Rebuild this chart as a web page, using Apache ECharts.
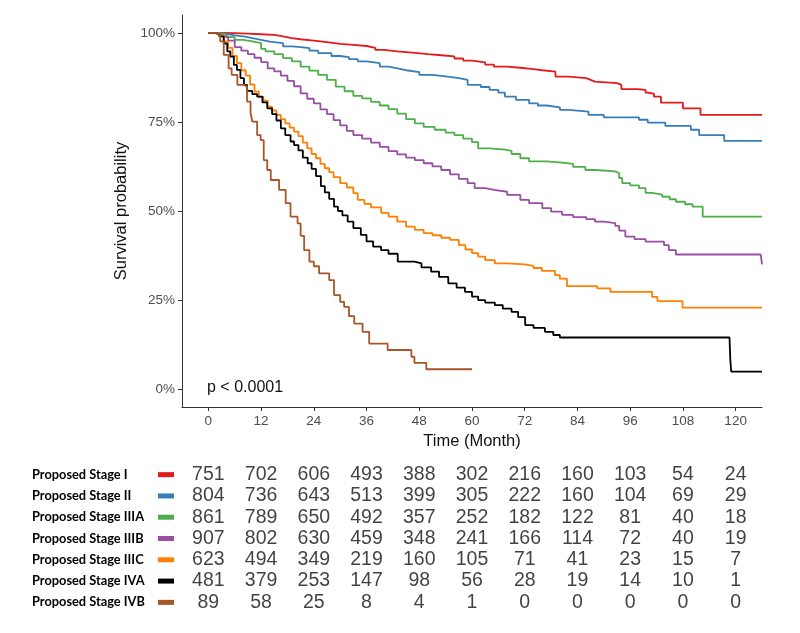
<!DOCTYPE html>
<html>
<head>
<meta charset="utf-8">
<script src="https://cdn.jsdelivr.net/npm/echarts@6/dist/echarts.min.js"></script>
<style>
html,body{margin:0;padding:0;background:#fff;}
#c{width:800px;height:633px;}
</style>
</head>
<body>
<div id="c"></div>
<script>
// ---- data ----
var stageNames = ['Proposed Stage I','Proposed Stage II','Proposed Stage IIIA','Proposed Stage IIIB','Proposed Stage IIIC','Proposed Stage IVA','Proposed Stage IVB'];
var stageColors = ['#E41A1C','#377EB8','#4DAF4A','#984EA3','#FF7F00','#000000','#A65628'];
var xTicks = [0,12,24,36,48,60,72,84,96,108,120];
var yTicks = [0,25,50,75,100];
var pText = 'p < 0.0001';

var survI = [[0,100],[3,99.9],[6,99.8],[9,99.6],[12,99.4],[15,99],[17,98.5],[19,98.2],[21,97.8],[24,97.4],[27,96.9],[30,96.6],[33,96.3],[36,95.8],[38,95.2],[40,94.8],[43,94.4],[47,94],[50,93.7],[53,93.4],[56,92.8],[58,92.2],[60,91.7],[63,91.1],[65,90.5],[68,90.2],[71,89.8],[74,89.5],[76,89.1],[79,87.7],[82,87.3],[86,86.8],[87,86.3],[88,85.9],[93,85.4],[94,84.2],[97.6,84],[99.5,83.2],[100,82.9],[101.4,82.1],[103,80.4],[108,78.8],[112,77],[126,77]];
var survII = [[0,100],[2,99.7],[4,99.3],[6,99],[8,98.5],[10,98],[12,97.5],[14,97.1],[17,96.2],[19,96],[21,95.7],[23,95],[25,94.3],[28,93.5],[30,93.2],[32,92.6],[34,92],[36,91.5],[39,90.5],[41,90],[43,89.5],[45,89],[48,88.2],[51,87.8],[54,87.3],[57,86.8],[59,85.4],[62,84.8],[64,84],[66,83.2],[67.5,82.1],[70,81.2],[73,80.2],[75,79.6],[77,79.1],[80,78.4],[82,77.9],[86.5,77],[90,76.3],[98,75.6],[100,74.8],[104,73.9],[109.8,72.8],[111.7,71.3],[117.4,69.7],[126,69.7]];
var survIIIA = [[0,100],[2,99.6],[4,98.8],[6,98],[8,97.6],[10,97.1],[12,95.5],[13,94.8],[15,94],[17,92.9],[19,92],[21,90.5],[23,89.4],[25,88.2],[27,86.8],[29,84.9],[31,83.6],[33,82.3],[35,81.6],[37,80.6],[39,79.6],[41,78.6],[43,77.3],[45,75.8],[47,74.6],[49,73.6],[51.5,72.8],[54,72],[56,71.3],[58,70.3],[60,69.3],[61.4,67.6],[64,67.2],[67.5,66.9],[69,66],[71,64.8],[73,63.9],[77,63.6],[80.5,63.2],[83,62.4],[85.8,61.5],[88,61.1],[92.6,60.6],[93.5,59.2],[94.2,57.8],[96,57.2],[98,56.4],[99.5,55.1],[101,54.6],[103.3,54],[105,53.3],[106.4,52.6],[108.5,51.9],[110.2,51.2],[112.5,48.4],[126,48.4]];
var survIIIB = [[0,100],[1.5,99.6],[3,99],[4.5,97.8],[6,96],[7.5,95],[9,94],[10.5,93],[12,91.8],[13.5,90],[15,89.2],[16.5,88],[18,86.5],[19.5,85],[21,83],[22.5,81.5],[24,80.2],[25.5,78.5],[27,77.2],[28.5,75.5],[30,74],[31.5,72.5],[33,71.3],[35,70.3],[37,69.2],[39,68],[41,66.8],[43,65.9],[45,65],[47,64.3],[49,63.4],[51,62.5],[53,61.5],[55,60.3],[57,59],[59,57.8],[60.6,56.4],[63,55.9],[65,55.4],[68,54.5],[71,53.1],[73,52.2],[76,50.8],[78,49.8],[80.5,48.9],[83,48.3],[86,47.7],[88,47],[90,46.6],[92.6,45.8],[93.5,44.5],[94.9,42.8],[97,42.1],[99.5,41.4],[103.7,40.4],[104.8,39],[106.4,37.8],[125.7,37.8],[126,35]];
var survIIIC = [[0,100],[1.5,99.5],[2.5,99],[3.5,97.6],[4.5,95.8],[5.5,93.5],[6.5,91.5],[7.5,89.5],[8.5,88],[9.5,85.5],[10.5,83.5],[11.5,82],[12.5,81],[13.5,79.3],[14.5,78.2],[15.5,77],[16.5,75.8],[17.5,74.6],[18.5,73.4],[19.5,72.3],[20.5,71],[21.5,69.2],[22.5,67.6],[23.5,66],[24.5,64.8],[25.5,63.2],[26.5,62],[27.5,60.9],[28.5,59.5],[30,57.8],[31.5,56.6],[33,55],[34,53.1],[35.5,52],[37,51],[39.3,49.5],[41,48.4],[43,47],[45,45.6],[47,44.7],[49,43.8],[51,43.2],[53,42.5],[55,41.9],[57,40.4],[58.5,39.2],[60,38.2],[61.4,37.2],[63,36.2],[65.2,35.3],[68,35],[72,34.6],[74,34],[75.9,33.2],[78.9,32],[80,31],[81.6,28.9],[88.5,28.3],[91.5,27.3],[101,25.9],[102.2,24.7],[107.9,22.9],[126,22.9]];
var survIVA = [[0,100],[1.5,99.6],[2.5,99],[3.5,97],[4.3,94.8],[5,93.3],[5.8,91],[6.5,89.6],[7.3,87.3],[8.1,85.4],[8.8,83.7],[10,82.8],[11.1,82.1],[12.3,80.5],[13.4,78.8],[14.5,77.2],[15.5,75.4],[16.5,73.2],[17.5,71.3],[18.7,69.5],[19.5,68.5],[20.5,67],[21.5,65],[22.6,63.4],[23.5,61.8],[24.5,59.8],[25.6,57],[26.5,55.2],[27.5,53.4],[28.6,51.2],[29.5,50],[30.5,48.8],[31.7,47],[33,45.2],[34.7,43.3],[36,41.5],[37.5,40],[39.3,39],[41,38],[43.1,35.8],[46.9,35.3],[48.5,34.2],[50.7,33],[52.5,31.5],[54.6,29.7],[56.5,28.5],[58.4,27.3],[60,26],[61.4,25],[63,24.3],[65.2,23.6],[67,22.6],[69,21.7],[70.5,20.2],[72.1,18],[74,17.2],[76.6,16.1],[78.5,15.2],[80,14.5],[118.6,14.5],[118.8,8],[119,4.9],[126,4.9]];
var survIVB = [[0,100],[1.5,99.5],[2.7,97.6],[3.5,93.8],[4.6,90],[5.3,88.2],[6.6,85.4],[8.1,84.9],[8.8,80.7],[9.6,77.5],[10,75.1],[11.1,71.3],[11.9,69.9],[12.6,64.3],[13.4,61.5],[14.2,58.7],[16.1,55.9],[17.6,52.2],[18.7,48.4],[20.3,46.5],[21,43],[21.8,39],[23,35.8],[24,34.5],[25.2,32.5],[27.5,30.6],[28.6,26.4],[30,24.5],[30.9,23.1],[32,20.5],[33.2,18.4],[35.1,16.1],[36.6,12.8],[40.8,11],[46.2,9.1],[46.9,7.4],[49.6,5.6],[60,5.6]];

var riskI = [751,702,606,493,388,302,216,160,103,54,24];
var riskII = [804,736,643,513,399,305,222,160,104,69,29];
var riskIIIA = [861,789,650,492,357,252,182,122,81,40,18];
var riskIIIB = [907,802,630,459,348,241,166,114,72,40,19];
var riskIIIC = [623,494,349,219,160,105,71,41,23,15,7];
var riskIVA = [481,379,253,147,98,56,28,19,14,10,1];
var riskIVB = [89,58,25,8,4,1,0,0,0,0,0];

var survAll = [survI,survII,survIIIA,survIIIB,survIIIC,survIVA,survIVB];
var riskAll = [riskI,riskII,riskIIIA,riskIIIB,riskIIIC,riskIVA,riskIVB];

// ---- chart ----
var chart = echarts.init(document.getElementById('c'), null, {renderer:'canvas'});
var FONT = '"Liberation Sans", Arial, sans-serif';

var rich = {n:{width:126, fontFamily:'Lato', fontWeight:'bold', fontSize:12.8, color:'#000', align:'left'}};
stageColors.forEach(function(c,i){ rich['s'+i] = {width:16, height:5, backgroundColor:c}; });

var series = [];
survAll.forEach(function(d,i){
  series.push({
    type:'line', name:stageNames[i], xAxisIndex:0, yAxisIndex:0,
    data:d, step:'end', showSymbol:false, symbol:'none', clip:true,
    lineStyle:{color:stageColors[i], width:1.8}, itemStyle:{color:stageColors[i]},
    silent:true, z:2+i
  });
});
var tableData = [];
riskAll.forEach(function(arr,i){
  arr.forEach(function(v,j){ tableData.push([xTicks[j], stageNames[i], v]); });
});
series.push({
  type:'scatter', xAxisIndex:1, yAxisIndex:1, data:tableData, symbolSize:0, silent:true,
  label:{show:true, position:'inside', formatter:function(p){return String(p.value[2]);},
    fontFamily:FONT, fontSize:19.5, color:'#111'}
});

var axisCol = '#333';
chart.setOption({
  animation:false,
  backgroundColor:'#ffffff',
  grid:[
    {left:182, top:15, width:580, height:392},
    {left:182, top:464, width:580, height:149}
  ],
  xAxis:[
    {type:'value', gridIndex:0, min:-6, max:126,
     name:'Time (Month)', nameLocation:'middle', nameGap:22,
     nameTextStyle:{fontFamily:FONT, fontSize:16.5, color:'#111'},
     axisLine:{show:true, onZero:false, lineStyle:{color:axisCol, width:1}},
     axisTick:{show:true, length:4, customValues:xTicks, lineStyle:{color:axisCol}},
     axisLabel:{customValues:xTicks, margin:7, fontFamily:FONT, fontSize:13.5, color:'#4D4D4D'},
     splitLine:{show:false}},
    {type:'value', gridIndex:1, min:-6, max:126, show:false}
  ],
  yAxis:[
    {type:'value', gridIndex:0, min:-5, max:105,
     name:'Survival probability', nameLocation:'middle', nameGap:38,
     nameTextStyle:{fontFamily:FONT, fontSize:16.5, color:'#111'},
     axisLine:{show:true, onZero:false, lineStyle:{color:axisCol, width:1}},
     axisTick:{show:true, length:4, customValues:yTicks, lineStyle:{color:axisCol}},
     axisLabel:{customValues:yTicks, margin:7, formatter:function(v){return v+'%';},
       fontFamily:FONT, fontSize:13.5, color:'#4D4D4D'},
     splitLine:{show:false}},
    {type:'category', gridIndex:1, data:stageNames, inverse:true,
     axisLine:{show:false}, axisTick:{show:false}, splitLine:{show:false},
     axisLabel:{align:'left', margin:150, rich:rich,
       formatter:function(v,idx){return '{n|'+v+'}{s'+idx+'|}';}}}
  ],
  graphic:[
    {type:'text', left:207, top:380, style:{text:pText, fontFamily:FONT, fontSize:16, fill:'#111'}}
  ],
  series:series
});
</script>
</body>
</html>
